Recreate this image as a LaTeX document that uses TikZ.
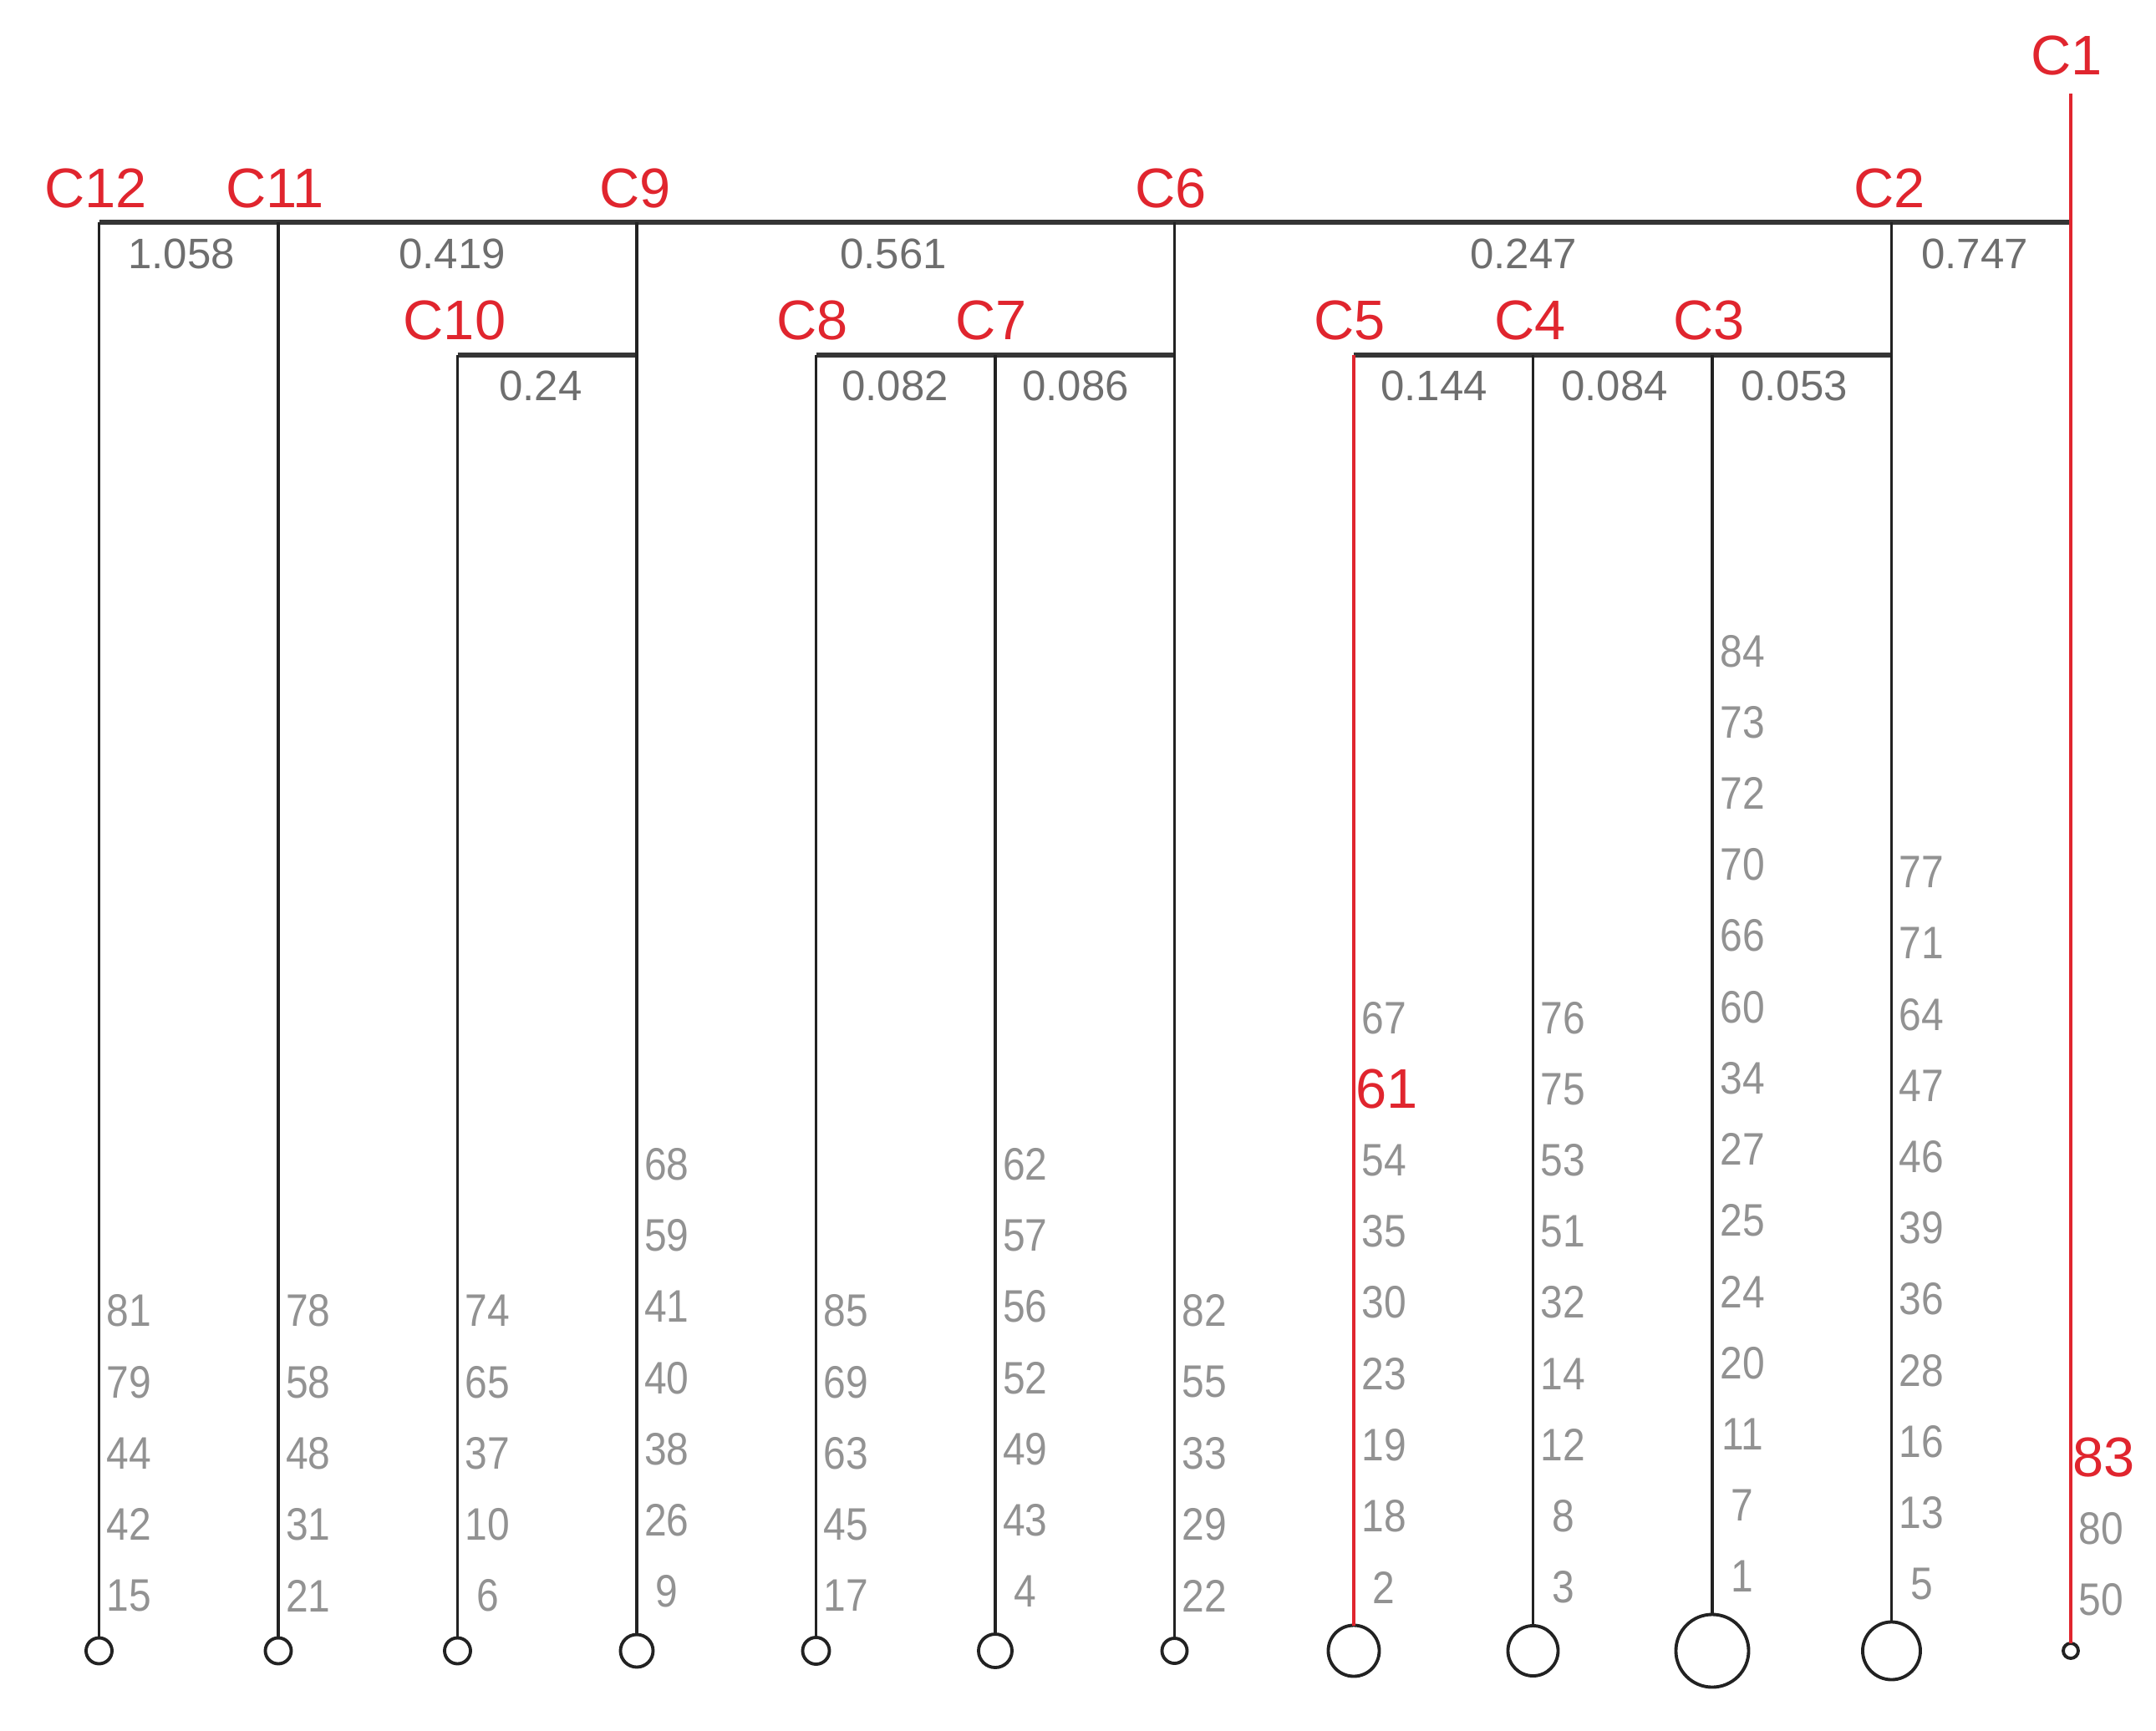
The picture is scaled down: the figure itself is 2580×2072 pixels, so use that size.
\documentclass[tikz,border=0pt]{standalone}
\usepackage{fontspec}
\setmainfont{Liberation Sans}
\newfontfamily\numfont[FakeStretch=0.88]{Liberation Sans}
\definecolor{cred}{HTML}{E0252E}
\definecolor{dgray}{HTML}{6E6E6E}
\definecolor{lgray}{HTML}{929292}
\definecolor{lineblack}{HTML}{222222}
\definecolor{hgray}{HTML}{353535}
\begin{document}
\begin{tikzpicture}[x=0.01cm,y=-0.01cm,
  hline/.style={line width=1.7pt, draw=hgray},
  vline/.style={line width=1.1pt, draw=lineblack},
  redline/.style={line width=1.0pt, draw=cred},
  leaf/.style={circle, draw=lineblack, line width=1.1pt, inner sep=0pt, outer sep=0pt, minimum size=#1},
  clab/.style={text=cred, font=\fontsize{19}{19}\selectfont, inner sep=0pt},
  dlab/.style={text=dgray, font=\fontsize{14.5}{14.5}\selectfont, inner sep=0pt},
  nlab/.style={text=lgray, font=\numfont\fontsize{15.5}{15.5}\selectfont, inner sep=0pt},
  rlab/.style={text=cred, font=\fontsize{19}{19}\selectfont, inner sep=0pt, anchor=west},
]
\useasboundingbox (0,0) rectangle (2580,2072);

% junction coordinates
\coordinate (j12) at (118.5,266);
\coordinate (j11) at (333,266);
\coordinate (j9)  at (762,266);
\coordinate (j6)  at (1405.5,266);
\coordinate (j2)  at (2263.5,266);
\coordinate (j1)  at (2478,266);
\coordinate (c1top) at (2478,112);
\coordinate (j10) at (547.5,425);
\coordinate (j9b) at (762,425);
\coordinate (j8)  at (976.5,425);
\coordinate (j7)  at (1191,425);
\coordinate (j6b) at (1405.5,425);
\coordinate (j5)  at (1620,425);
\coordinate (j4)  at (1834.5,425);
\coordinate (j3)  at (2049,425);
\coordinate (j2b) at (2263.5,425);

% leaf circles
\node[leaf=0.31cm] (L12) at (118.5,1976) {};
\node[leaf=0.31cm] (L11) at (333,1976) {};
\node[leaf=0.31cm] (L10) at (547.5,1976) {};
\node[leaf=0.39cm] (L9)  at (762,1976) {};
\node[leaf=0.32cm] (L8)  at (976.5,1976) {};
\node[leaf=0.40cm] (L7)  at (1191,1976) {};
\node[leaf=0.30cm] (L6)  at (1405.5,1976) {};
\node[leaf=0.61cm] (L5)  at (1620,1976) {};
\node[leaf=0.60cm] (L4)  at (1834.5,1976) {};
\node[leaf=0.87cm] (L3)  at (2049,1976) {};
\node[leaf=0.69cm] (L2)  at (2263.5,1976) {};
\node[leaf=0.18cm] (L1)  at (2478,1976) {};

% horizontal links
\draw[hline] (j12) -- (j1);
\draw[hline] (j10) -- (j9b);
\draw[hline] (j8) -- (j6b);
\draw[hline] (j5) -- (j2b);

% vertical links
\draw[vline] (j12) -- (L12.north);
\draw[vline] (j11) -- (L11.north);
\draw[vline] (j10) -- (L10.north);
\draw[vline] (j9)  -- (L9.north);
\draw[vline] (j8)  -- (L8.north);
\draw[vline] (j7)  -- (L7.north);
\draw[vline] (j6)  -- (L6.north);
\draw[redline] (j5) -- (L5.north);
\draw[vline] (j4)  -- (L4.north);
\draw[vline] (j3)  -- (L3.north);
\draw[vline] (j2)  -- (L2.north);
\draw[redline] (c1top) -- (L1.north);

% cluster labels
\node[clab] (C1)  at (2473,66) {C1};
\node[clab] (C12) at (114.5,225) {C12};
\node[clab] (C11) at (329,225) {C11};
\node[clab] (C9)  at (760,225) {C9};
\node[clab] (C6)  at (1401,225) {C6};
\node[clab] (C2)  at (2261,225) {C2};
\node[clab] (C10) at (544,383) {C10};
\node[clab] (C8)  at (972,383) {C8};
\node[clab] (C7)  at (1186,383) {C7};
\node[clab] (C5)  at (1615,383) {C5};
\node[clab] (C4)  at (1831,383) {C4};
\node[clab] (C3)  at (2045,383) {C3};

% distance labels
\node[dlab] (d12) at (217,304) {1.058};
\node[dlab] (d11) at (541,304) {0.419};
\node[dlab] (d9)  at (1069,304) {0.561};
\node[dlab] (d6)  at (1823,304) {0.247};
\node[dlab] (d2)  at (2363,304) {0.747};
\node[dlab] (d10) at (647,462) {0.24};
\node[dlab] (d8)  at (1071,462) {0.082};
\node[dlab] (d7)  at (1287,462) {0.086};
\node[dlab] (d5)  at (1716,462) {0.144};
\node[dlab] (d4)  at (1932,462) {0.084};
\node[dlab] (d3)  at (2147,462) {0.053};

% member numbers
\foreach \lab [count=\k from 0] in {15,42,44,79,81}
  \node[nlab] (n\lab) at (154.5,1910-85.2*\k) {\lab};
\foreach \lab [count=\k from 0] in {21,31,48,58,78}
  \node[nlab] (n\lab) at (369,1910-85.2*\k) {\lab};
\foreach \lab [count=\k from 0] in {6,10,37,65,74}
  \node[nlab] (n\lab) at (583.5,1910-85.2*\k) {\lab};
\foreach \lab [count=\k from 0] in {9,26,38,40,41,59,68}
  \node[nlab] (n\lab) at (798,1905-85.2*\k) {\lab};
\foreach \lab [count=\k from 0] in {17,45,63,69,85}
  \node[nlab] (n\lab) at (1012.5,1910-85.2*\k) {\lab};
\foreach \lab [count=\k from 0] in {4,43,49,52,56,57,62}
  \node[nlab] (n\lab) at (1227,1905-85.2*\k) {\lab};
\foreach \lab [count=\k from 0] in {22,29,33,55,82}
  \node[nlab] (n\lab) at (1441.5,1910-85.2*\k) {\lab};
\foreach \lab [count=\k from 0] in {2,18,19,23,30,35,54}
  \node[nlab] (n\lab) at (1656,1900-85.2*\k) {\lab};
\node[rlab] (n61) at (1622,1900-85.2*7) {61};
\node[nlab] (n67) at (1656,1900-85.2*8) {67};
\foreach \lab [count=\k from 0] in {3,8,12,14,32,51,53,75,76}
  \node[nlab] (n\lab) at (1870.5,1900-85.2*\k) {\lab};
\foreach \lab [count=\k from 0] in {1,7,11,20,24,25,27,34,60,66,70,72,73,84}
  \node[nlab] (n\lab) at (2085,1887-85.2*\k) {\lab};
\foreach \lab [count=\k from 0] in {5,13,16,28,36,39,46,47,64,71,77}
  \node[nlab] (n\lab) at (2299.5,1896-85.2*\k) {\lab};
\node[nlab] (n50) at (2514,1915) {50};
\node[nlab] (n80) at (2514,1915-85.2) {80};
\node[rlab] (n83) at (2480,1915-85.2*2) {83};
\end{tikzpicture}
\end{document}
